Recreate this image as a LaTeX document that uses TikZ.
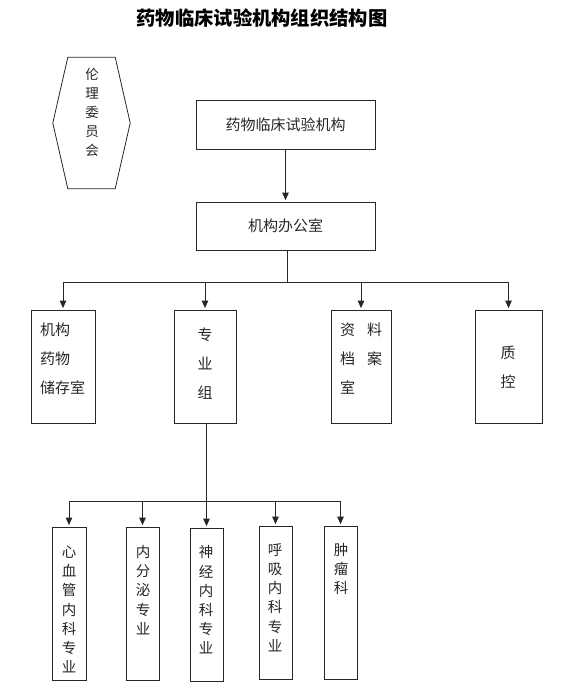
\documentclass[tikz,border=0pt]{standalone}
\usepackage{fontspec}
\setmainfont{Noto Sans CJK SC}
\usetikzlibrary{arrows.meta}
\tikzset{
  box/.style={draw=black!85, line width=0.8pt, inner sep=0pt},
  conn/.style={draw=black!85, line width=0.8pt},
  arr/.style={conn, -{Triangle[width=6.5pt,length=7.5pt]}, shorten >=1.5pt},
  txt/.style={inner sep=0pt, text=black!85},
  midtext/.style={txt, font=\fontsize{15pt}{29pt}\selectfont},
  vtext/.style={txt, align=center, font=\fontsize{14.5pt}{19.2pt}\selectfont},
  hextext/.style={txt, align=center, font=\fontsize{13.5pt}{19pt}\selectfont},
}
\begin{document}
\begin{tikzpicture}[x=1pt,y=-1pt]
\useasboundingbox (0,0) rectangle (561,698);
% title
\node[txt, text=black, font=\bfseries\fontsize{19.3pt}{19.3pt}\selectfont] (title) at (262,18.5) {药物临床试验机构组织结构图};
% ethics committee (hexagon)
\node[minimum width=77pt, minimum height=131pt, inner sep=0pt] (ethics) at (91.5,123) {};
\draw[conn] ([xshift=15pt]ethics.north west) -- ([xshift=-15pt]ethics.north east) -- (ethics.east)
  -- ([xshift=-15pt]ethics.south east) -- ([xshift=15pt]ethics.south west) -- (ethics.west) -- cycle;
\node[hextext] (ethicstext) at (92,112) {伦\\理\\委\\员\\会};
% top boxes
\node[box, midtext, minimum width=179pt, minimum height=49pt] (inst) at (285.5,124.5) {药物临床试验机构};
\node[box, midtext, minimum width=179pt, minimum height=48pt] (office) at (285.5,226) {机构办公室};
\draw[arr] (inst) -- (office);
% second row
\node[box, minimum width=64pt, minimum height=113pt] (store) at (63,366.5) {};
\node[box, minimum width=62pt, minimum height=113pt] (group) at (205,366.5) {};
\node[box, minimum width=60pt, minimum height=113pt] (archive) at (361,366.5) {};
\node[box, minimum width=67pt, minimum height=113pt] (qc) at (508.5,366.5) {};
\node[midtext, align=left, anchor=west] (storetext) at (40,359) {机构\\药物\\储存室};
\node[midtext, align=center] (grouptext) at (205,364) {专\\业\\组};
\node[midtext, align=left, anchor=west] (archivetext) at (340,358.5) {资\hspace{12pt}料\\档\hspace{12pt}案\\室};
\node[midtext, align=center] (qctext) at (508,367.5) {质\\控};
\coordinate (j1) at (287,282);
\draw[conn] (office.south -| j1) -- (j1);
\draw[conn] (store.north |- j1) -- (qc.north |- j1);
\foreach \n in {store,group,archive,qc}{
  \draw[arr] (\n.north |- j1) -- (\n.north);
}
% third row
\node[box, minimum width=34pt, minimum height=153pt] (b1) at (69,603.5) {};
\node[box, minimum width=33pt, minimum height=153pt] (b2) at (142.5,603.5) {};
\node[box, minimum width=33pt, minimum height=153pt] (b3) at (206.5,604.5) {};
\node[box, minimum width=33pt, minimum height=153pt] (b4) at (275.5,602.5) {};
\node[box, minimum width=33pt, minimum height=153pt] (b5) at (340.5,602.5) {};
\node[vtext] (b1text) at (69,609.5) {心\\血\\管\\内\\科\\专\\业};
\node[vtext] (b2text) at (143,590) {内\\分\\泌\\专\\业};
\node[vtext] (b3text) at (206,600) {神\\经\\内\\科\\专\\业};
\node[vtext] (b4text) at (275,597.5) {呼\\吸\\内\\科\\专\\业};
\node[vtext] (b5text) at (341,569) {肿\\瘤\\科};
\coordinate (j2) at (206,501);
\draw[conn] (group.south -| j2) -- (j2);
\draw[conn] (b1.north |- j2) -- (b5.north |- j2);
\foreach \n in {b1,b2,b3,b4,b5}{
  \draw[arr] (\n.north |- j2) -- (\n.north);
}
\end{tikzpicture}
\end{document}
